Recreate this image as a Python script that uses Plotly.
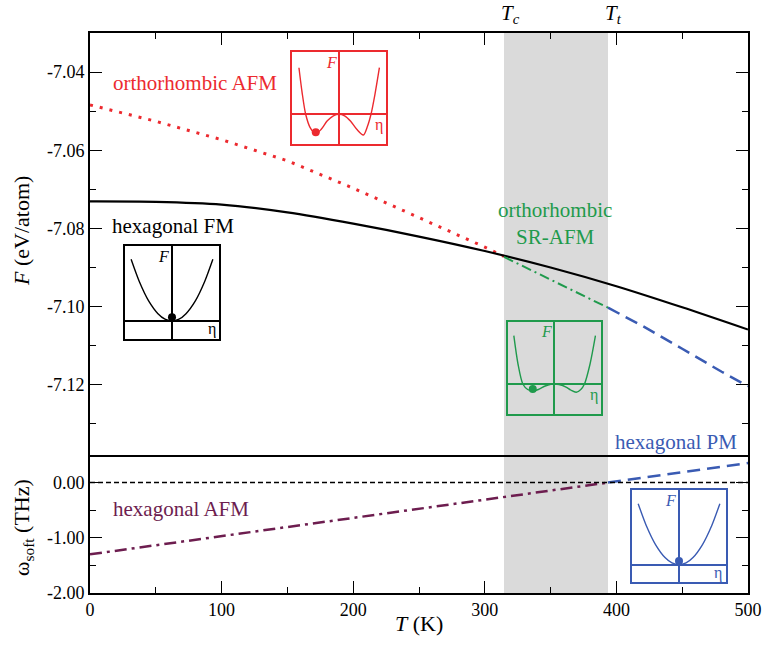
import plotly.graph_objects as go

# ---------------- data ----------------
T_C = 314.6
T_T = 393.6

# main free-energy curves (top panel)
T_HEX_FM = [0, 50, 100, 150, 200, 250, 300, 350, 400, 450, 500]
F_HEX_FM = [-7.0731, -7.0732, -7.0739, -7.0759, -7.0788, -7.0821, -7.0858, -7.0900, -7.0948, -7.1002, -7.1059]

T_ORTHO_AFM = [0, 50, 100, 150, 200, 250, 300, 314.6]
F_ORTHO_AFM = [-7.0484, -7.0526, -7.0573, -7.0627, -7.0697, -7.0772, -7.0848, -7.0872]

T_SR_AFM = [314.6, 350, 393.6]
F_SR_AFM = [-7.0873, -7.0931, -7.1003]

T_HEX_PM = [393.6, 420, 450, 480, 500]
F_HEX_PM = [-7.1003, -7.1050, -7.1108, -7.1167, -7.1204]

# soft-mode frequency (bottom panel)
T_OMEGA_AFM = [0, 100, 200, 300, 393.6]
W_OMEGA_AFM = [-1.30, -0.97, -0.64, -0.31, 0.0]
T_OMEGA_PM = [393.6, 450, 500]
W_OMEGA_PM = [0.0, 0.19, 0.353]

# tick labels
F_TICKS = [-7.12, -7.10, -7.08, -7.06, -7.04]
F_TICK_LABELS = ["-7.12", "-7.10", "-7.08", "-7.06", "-7.04"]
F_MINOR = [-7.13, -7.11, -7.09, -7.07, -7.05, -7.03]
W_TICKS = [-2.0, -1.0, 0.0]
W_TICK_LABELS = ["-2.00", "-1.00", "0.00"]
W_MINOR = [-1.5, -0.5]
T_TICKS = [0, 100, 200, 300, 400, 500]
T_TICK_LABELS = ["0", "100", "200", "300", "400", "500"]
T_MINOR = [50, 150, 250, 350, 450]

# schematic Landau-potential insets (eta, F in inset units)
ETA_SINGLE = [-0.875, -0.7, -0.5, -0.3, -0.15, 0, 0.15, 0.3, 0.5, 0.7, 0.875]
F_SINGLE_FM = [61.7, 39.5, 20.1, 7.3, 1.8, 0, 1.8, 7.3, 20.1, 39.5, 61.7]
F_SINGLE_PM = [61.0, 39.0, 19.9, 7.2, 1.8, 0, 1.8, 7.2, 19.9, 39.0, 61.0]
ETA_DOUBLE_AFM = [-0.857, -0.79, -0.713, -0.62, -0.497, -0.38, -0.25, -0.12, 0, 0.12, 0.25, 0.38, 0.522, 0.61, 0.685, 0.77, 0.865]
F_DOUBLE_AFM = [46.6, 22, 0, -13, -19.5, -15, -6.5, -1.5, 0, -1.5, -7, -15, -20.7, -12, 0, 20, 46.6]
ETA_DOUBLE_SR = [-0.88, -0.79, -0.685, -0.58, -0.469, -0.35, -0.2, -0.08, 0, 0.1, 0.25, 0.35, 0.47, 0.57, 0.649, 0.77, 0.887]
F_DOUBLE_SR = [48.3, 20, 0, -5.5, -7, -5.5, -2, -0.3, 0, -0.5, -3, -6, -8.3, -5.5, 0, 20, 48.3]
DOT_FM = (0, 3.7)
DOT_PM = (0, 3.7)
DOT_AFM = (-0.497, -18)
DOT_SR = (-0.47, -5)

# ---------------- style ----------------
FONT = "Liberation Serif"
RED = "#ec2a2f"
GREEN = "#1f9a4c"
BLUE = "#3a5bb3"
PURPLE = "#6d1d4f"
GRAY = "#dadada"

fig = go.Figure()

# top panel curves
fig.add_trace(go.Scatter(x=T_ORTHO_AFM, y=F_ORTHO_AFM, mode="lines", xaxis="x2", yaxis="y2",
                         line=dict(color=RED, width=3, dash="3px,7px")))
fig.add_trace(go.Scatter(x=T_HEX_FM, y=F_HEX_FM, mode="lines", xaxis="x2", yaxis="y2",
                         line=dict(color="black", width=2.2, shape="spline", smoothing=0.8)))
fig.add_trace(go.Scatter(x=T_SR_AFM, y=F_SR_AFM, mode="lines", xaxis="x2", yaxis="y2",
                         line=dict(color=GREEN, width=2, dash="10px,4px,2px,4px")))
fig.add_trace(go.Scatter(x=T_HEX_PM, y=F_HEX_PM, mode="lines", xaxis="x2", yaxis="y2",
                         line=dict(color=BLUE, width=2.5, dash="13px,7px")))

# bottom panel curves
fig.add_trace(go.Scatter(x=T_OMEGA_AFM, y=W_OMEGA_AFM, mode="lines", xaxis="x", yaxis="y",
                         line=dict(color=PURPLE, width=2.5, dash="12px,5px,3px,5px")))
fig.add_trace(go.Scatter(x=T_OMEGA_PM, y=W_OMEGA_PM, mode="lines", xaxis="x", yaxis="y",
                         line=dict(color=BLUE, width=2.5, dash="13px,7px")))

# insets: (axis suffix, eta, F, dot, color, x-domain, y-domain, y-range, F label pos, eta label pos)
insets = [
    ("3", ETA_DOUBLE_AFM, F_DOUBLE_AFM, DOT_AFM, RED, [0.3074, 0.4494], [0.8013, 0.9655], [-30, 62], (-0.16, 52), (0.86, -11)),
    ("4", ETA_SINGLE, F_SINGLE_FM, DOT_FM, "black", [0.0536, 0.1956], [0.4536, 0.6202], [-18, 75.3], (-0.18, 64), (0.85, -8)),
    ("5", ETA_DOUBLE_SR, F_DOUBLE_SR, DOT_SR, GREEN, [0.6357, 0.7761], [0.3191, 0.4834], [-30.3, 61.7], (-0.18, 52), (0.86, -11)),
    ("6", ETA_SINGLE, F_SINGLE_PM, DOT_PM, BLUE, [0.8242, 0.9661], [0.0191, 0.1834], [-17.6, 74.4], (-0.18, 64), (0.84, -8)),
]

layout_axes = {}
annotations = []
for suf, eta, fv, dot, col, xd, yd, yr, flab, elab in insets:
    fig.add_trace(go.Scatter(x=eta, y=fv, mode="lines", xaxis="x" + suf, yaxis="y" + suf,
                             line=dict(color=col, width=1.4, shape="spline", smoothing=0.8)))
    fig.add_trace(go.Scatter(x=[dot[0]], y=[dot[1]], mode="markers", xaxis="x" + suf, yaxis="y" + suf,
                             marker=dict(color=col, size=8)))
    common = dict(showline=True, mirror=True, linecolor=col, linewidth=1.5, showticklabels=False,
                  ticks="", showgrid=False, zeroline=True, zerolinecolor=col, zerolinewidth=1.5,
                  fixedrange=True, automargin=False)
    layout_axes["xaxis" + suf] = dict(domain=xd, range=[-1, 1], anchor="y" + suf, **common)
    layout_axes["yaxis" + suf] = dict(domain=yd, range=yr, anchor="x" + suf, **common)
    annotations.append(dict(x=flab[0], y=flab[1], xref="x" + suf, yref="y" + suf, text="<i>F</i>",
                            showarrow=False, xanchor="center", yanchor="middle",
                            font=dict(family=FONT, size=16, color=col)))
    annotations.append(dict(x=elab[0], y=elab[1], xref="x" + suf, yref="y" + suf, text="η",
                            showarrow=False, xanchor="center", yanchor="middle",
                            font=dict(family=FONT, size=16, color=col)))

# curve labels
ann_c = dict(showarrow=False, xanchor="center", yanchor="middle")
annotations += [
    dict(x=80, y=-7.0428, xref="x2", yref="y2", text="orthorhombic AFM",
         font=dict(family=FONT, size=21, color=RED), **ann_c),
    dict(x=63, y=-7.0795, xref="x2", yref="y2", text="hexagonal FM",
         font=dict(family=FONT, size=21, color="black"), **ann_c),
    dict(x=353, y=-7.0787, xref="x2", yref="y2", text="orthorhombic<br>SR-AFM",
         font=dict(family=FONT, size=21, color=GREEN), **ann_c),
    dict(x=445, y=(593 - 442) / 560, xref="x", yref="paper", text="hexagonal PM",
         font=dict(family=FONT, size=21, color=BLUE), **ann_c),
    dict(x=69, y=-0.47, xref="x", yref="y", text="hexagonal AFM",
         font=dict(family=FONT, size=21, color=PURPLE), **ann_c),
    dict(x=T_C, y=(593 - 14) / 560, xref="x", yref="paper", text="<i>T</i><sub><i>c</i></sub>",
         xshift=6, font=dict(family=FONT, size=21, color="black"), **ann_c),
    dict(x=T_T, y=(593 - 14) / 560, xref="x", yref="paper", text="<i>T</i><sub><i>t</i></sub>",
         xshift=6, font=dict(family=FONT, size=21, color="black"), **ann_c),
    # axis titles
    dict(x=(22 - 90) / 658, y=(593 - 231) / 560, xref="paper", yref="paper", text="<i>F</i> (eV/atom)",
         textangle=-90, font=dict(family=FONT, size=22, color="black"), **ann_c),
    dict(x=(23 - 90) / 658, y=(593 - 528) / 560, xref="paper", yref="paper", text="ω<sub>soft</sub> (THz)",
         textangle=-90, font=dict(family=FONT, size=22, color="black"), **ann_c),
    dict(x=(419 - 90) / 658, y=-(623 - 593) / 560, xref="paper", yref="paper", text="<i>T</i> (K)",
         font=dict(family=FONT, size=22, color="black"), **ann_c),
]

tickfont = dict(family=FONT, size=18, color="black")
axis_common = dict(showline=True, linecolor="black", linewidth=1.6, ticks="inside", ticklen=12,
                   tickwidth=1.3, tickcolor="black", showgrid=False, zeroline=False, tickfont=tickfont,
                   automargin=False)

B = 138 / 560  # bottom-panel fraction

fig.update_layout(
    width=763, height=646, autosize=False,
    margin=dict(l=90, r=15, t=33, b=53),
    paper_bgcolor="white", plot_bgcolor="rgba(0,0,0,0)",
    showlegend=False,
    font=dict(family=FONT),
    xaxis=dict(domain=[0, 1], anchor="y", range=[0, 500], mirror=False,
               tickmode="array", tickvals=T_TICKS, ticktext=T_TICK_LABELS,
               minor=dict(ticks="inside", ticklen=6, tickwidth=1.3, tickcolor="black", tickvals=T_MINOR),
               **axis_common),
    xaxis2=dict(domain=[0, 1], anchor="y2", range=[0, 500], matches="x", side="top", mirror=True,
                showticklabels=False, tickmode="array", tickvals=T_TICKS,
                minor=dict(ticks="inside", ticklen=6, tickwidth=1.3, tickcolor="black", tickvals=T_MINOR),
                **axis_common),
    yaxis=dict(domain=[0, B], anchor="x", range=[-2, 0.5], mirror="ticks",
               tickmode="array", tickvals=W_TICKS, ticktext=W_TICK_LABELS,
               minor=dict(ticks="inside", ticklen=6, tickwidth=1.3, tickcolor="black", tickvals=W_MINOR),
               **axis_common),
    yaxis2=dict(domain=[B, 1], anchor="x2", range=[-7.138, -7.030], mirror="ticks",
                tickmode="array", tickvals=F_TICKS, ticktext=F_TICK_LABELS,
                minor=dict(ticks="inside", ticklen=6, tickwidth=1.3, tickcolor="black", tickvals=F_MINOR),
                **axis_common),
    annotations=annotations,
    shapes=[
        dict(type="rect", xref="x", yref="paper", x0=T_C, x1=T_T, y0=0, y1=1,
             fillcolor=GRAY, line=dict(width=0), layer="below"),
        dict(type="line", xref="x", yref="y", x0=0, x1=500, y0=0, y1=0,
             line=dict(color="black", width=1.5, dash="5px,3px")),
    ],
    **layout_axes,
)

# remove the browser's default 8px body margin so the 763x646 figure fills the window exactly
fig.write_html("out.html", config={"displayModeBar": False},
               post_script="document.body.style.margin='0';document.body.style.overflow='hidden';")
